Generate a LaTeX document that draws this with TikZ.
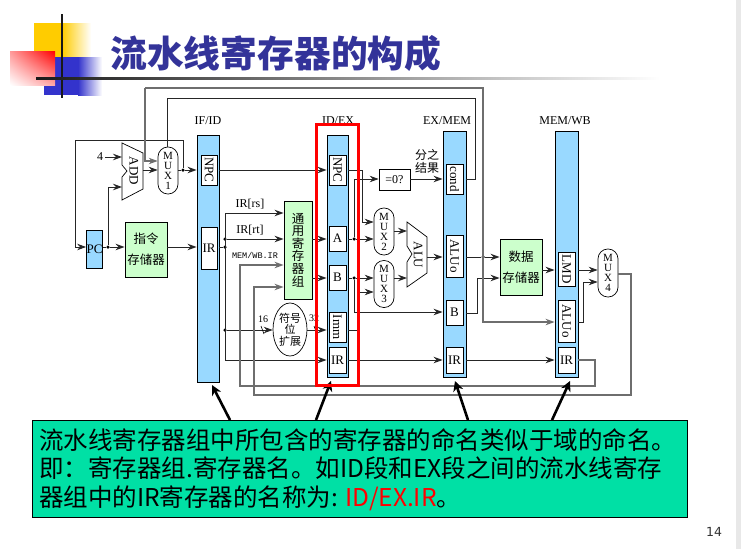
\documentclass[tikz,border=0pt]{standalone}
\usepackage{fontspec}
\setmainfont{Liberation Serif}
\newfontfamily\cjk{Noto Sans CJK SC}
\newfontfamily\monof{Liberation Mono}
\newfontfamily\pagef{DejaVu Sans}
\usepackage{xcolor}
\usetikzlibrary{arrows.meta,positioning,calc,shapes.geometric,shadings}
\definecolor{regblue}{HTML}{99D9FF}
\definecolor{unitgreen}{HTML}{CCFFCC}
\definecolor{calloutgreen}{HTML}{00E0A5}
\definecolor{titleblue}{HTML}{333399}
\definecolor{logoyellow}{HTML}{FFCC00}
\definecolor{logoblue}{HTML}{3333CC}
\definecolor{wiregray}{HTML}{6E6E6E}
\definecolor{edgegray}{HTML}{E8E8E8}
\tikzset{
  bar/.style={draw, fill=regblue, line width=0.9pt, minimum width=#1, anchor=north, inner sep=0pt},
  reg/.style={draw, fill=white, line width=0.8pt, font=\fontsize{13}{13}\selectfont, inner sep=0pt},
  unit/.style={draw, fill=unitgreen, line width=0.9pt, inner sep=0pt, align=center, font=\cjk\fontsize{12.5}{21}\selectfont},
  muxbox/.style={draw, fill=white, line width=0.7pt, rounded corners=9.8pt, minimum width=20pt, minimum height=47pt, inner sep=0pt, align=center, font=\fontsize{11}{10}\selectfont},
  stage/.style={font=\fontsize{12}{13}\selectfont, inner sep=0pt},
  dot/.style={circle, fill=black, inner sep=0pt, minimum size=3.5pt},
  tip/.style={-{Stealth[length=9pt,width=6.5pt,inset=3pt]}},
  wire/.style={draw=black!85, line width=0.9pt, tip},
  plainwire/.style={draw=black!85, line width=0.9pt},
  backwire/.style={draw=wiregray, line width=1.2pt},
  bigarrow/.style={draw=black, line width=2.6pt, -{Stealth[length=10pt,width=10pt,inset=3pt]}}
}
\begin{document}
\begin{tikzpicture}[x=1pt,y=-1pt]
\useasboundingbox (0,0) rectangle (741,549);
\fill[edgegray] (736,0) rectangle (741,549);
% logo
\fill[logoyellow] (34,23) rectangle (62,57);
\shade[left color=logoyellow, right color=white] (62,23) rectangle (91,57);
\fill[logoblue] (44,57) rectangle (78,95);
\shade[left color=logoblue, right color=white] (78,57) rectangle (102,95);
\shade[upper right=red, lower right=red!35, upper left=red!40, lower left=white] (10,51) rectangle (55,85);
\draw[black!90, line width=2.6pt] (62,14) -- (62,98);
\shade[left color=black!90, right color=white] (36,77.8) rectangle (660,79.2);
\node[font=\cjk\bfseries\fontsize{36.8}{36}\selectfont, text=titleblue, inner sep=0pt, anchor=west] (title) at (110,53) {流水线寄存器的构成};

% pipeline registers
\node[bar=22pt, minimum height=247pt] (ifid) at (208,135) {};
\node[bar=21pt, minimum height=242pt] (idex) at (337.5,135) {};
\node[bar=23pt, minimum height=246pt] (exmem) at (454.5,131) {};
\node[bar=23pt, minimum height=246pt] (memwb) at (566.5,131) {};
\node[stage] (lifid) at (208,121) {IF/ID};
\node[stage] (lidex) at (338,121) {ID/EX};
\node[stage] (lexmem) at (447,121) {EX/MEM};
\node[stage] (lmemwb) at (565,121) {MEM/WB};

\node[reg, rotate=-90, minimum width=30pt, minimum height=16pt] (ifnpc) at (209,170) {NPC};
\node[reg, minimum width=16pt, minimum height=42pt] (ifir) at (209,248) {IR};
\node[reg, rotate=-90, minimum width=30pt, minimum height=17pt] (idnpc) at (337.5,170) {NPC};
\node[reg, minimum width=17pt, minimum height=25pt] (ida) at (337.5,238.5) {A};
\node[reg, minimum width=17pt, minimum height=25pt] (idb) at (337.5,277.5) {B};
\node[reg, rotate=-90, minimum width=30pt, minimum height=17pt] (idimm) at (337.5,327) {Imm};
\node[reg, minimum width=17pt, minimum height=26pt] (idir) at (337.5,360) {IR};
\node[reg, rotate=-90, minimum width=30pt, minimum height=17pt] (excond) at (454.5,179) {cond};
\node[reg, rotate=-90, minimum width=42pt, minimum height=17pt] (exalu) at (454.5,256) {ALUo};
\node[reg, minimum width=17pt, minimum height=25pt] (exb) at (454.5,312.5) {B};
\node[reg, minimum width=17pt, minimum height=26pt] (exir) at (454.5,360) {IR};
\node[reg, rotate=-90, minimum width=34pt, minimum height=17pt] (wblmd) at (566.5,269) {LMD};
\node[reg, rotate=-90, minimum width=42pt, minimum height=17pt] (wbalu) at (566.5,321) {ALUo};
\node[reg, minimum width=17pt, minimum height=26pt] (wbir) at (566.5,360) {IR};

% units
\node[draw, fill=regblue, line width=0.9pt, minimum width=15pt, minimum height=38pt, inner sep=0pt, font=\fontsize{13}{13}\selectfont] (pc) at (94.5,249) {PC};
\node[unit, minimum width=42pt, minimum height=55pt] (imem) at (146,249.5) {指令\\存储器};
\node[unit, minimum width=28pt, minimum height=98pt, font=\cjk\fontsize{12.5}{12.6}\selectfont] (regs) at (298,250) {通\\用\\寄\\存\\器\\组};
\node[draw, ellipse, fill=white, line width=0.7pt, minimum width=34pt, minimum height=53pt, inner sep=0pt, align=center, font=\cjk\fontsize{11}{11.5}\selectfont] (sext) at (290,329.5) {符号\\位\\扩展};
\node[unit, minimum width=42pt, minimum height=56pt] (dmem) at (521,267) {数据\\存储器};
\node[draw, fill=white, line width=0.7pt, minimum width=31pt, minimum height=21pt, inner sep=0pt, font=\fontsize{12}{13}\selectfont] (zero) at (394.5,179.5) {=0?};
\node[muxbox] (muxa) at (168,170.5) {M\\U\\X\\1};
\node[muxbox] (muxb) at (384,231.5) {M\\U\\X\\2};
\node[muxbox] (muxc) at (384,284) {M\\U\\X\\3};
\node[muxbox, minimum height=48pt] (muxd) at (608,273) {M\\U\\X\\4};
\draw[fill=white, line width=0.7pt] (122,143) -- (143,153) -- (143,189) -- (122,200) -- (122,177) -- (127,171) -- (122,165) -- cycle;
\node[rotate=-90, inner sep=0pt, font=\fontsize{13}{13}\selectfont] (add) at (134,171) {ADD};
\draw[fill=white, line width=0.7pt] (407,222) -- (427,237) -- (427,273) -- (407,287) -- (407,262) -- (412,254) -- (407,246) -- cycle;
\node[rotate=-90, inner sep=0pt, font=\fontsize{13}{13}\selectfont] (alu) at (418,255) {ALU};

% wire rows
\coordinate (rnpc) at (0,170);
\coordinate (rrs) at (225,213);
\coordinate (rrt) at (0,239);
\coordinate (rir) at (0,247);
\coordinate (rb) at (0,278);
\coordinate (rimm) at (0,330);
\coordinate (rinst) at (0,360);
\coordinate (rcond) at (0,179);
\coordinate (rhigh) at (145,88);
\coordinate (rtop) at (167,98);
\coordinate (rloop) at (75,140);
\coordinate (rlow) at (240,386);
\coordinate (rlowb) at (254,395);

% dots
\node[dot] (jmux) at (183,170) {};
\node[dot] (jpc) at (108,247) {};
\node[dot] (jir) at (225,247) {};
\node[dot] (jrt) at (225,239) {};
\node[dot] (jimm) at (225,330) {};
\node[dot] (ja) at (354,239) {};
\node[dot] (jb) at (354,278) {};
\node[dot] (jalu) at (483,257) {};

% fetch
\node[inner sep=0pt, font=\fontsize{12}{13}\selectfont] (four) at (100,157) {4};
\draw[wire] (four.east) ++(2,0) -- (122,157);
\draw[plainwire] (muxa.east |- rnpc) -- (jmux);
\draw[wire] (jmux) -- (ifid.west |- rnpc);
\draw[plainwire] (jmux) |- (rloop) -- (rloop |- rir);
\draw[wire] (rloop |- rir) -- (pc.west |- rir);
\draw[plainwire] (pc.east |- rir) -- (jpc);
\draw[wire] (jpc) -- (imem.west |- rir);
\draw[wire] (jpc) |- (122,187);
\draw[wire] (143,170) -- (muxa.west |- rnpc);
\draw[wire] (imem.east |- rir) -- (ifid.west |- rir);
\draw[wire] (ifid.east |- rnpc) -- (idex.west |- rnpc);

% decode
\draw[plainwire] (ifid.east |- rir) -- (jir);
\draw[plainwire] (rrs) -- (225,361);
\draw[wire] (rrs) -- (regs.west |- rrs);
\draw[wire] (jrt) -- (regs.west |- rrt);
\draw[wire] (jimm) -- (sext.west |- rimm);
\draw[wire] (225,360) -- (idex.west |- rinst);
\draw[wire] (sext.east |- rimm) -- (idex.west |- rimm);
\draw[wire] (regs.east |- rrt) -- (idex.west |- rrt);
\draw[wire] (regs.east |- rb) -- (idex.west |- rb);
\draw[line width=0.6pt] (261,326) -- (264,334);
\draw[line width=0.6pt] (314,326) -- (317,334);
\node[inner sep=0pt, font=\fontsize{12}{12}\selectfont] (lrs) at (250,204) {IR[rs]};
\node[inner sep=0pt, font=\fontsize{12}{12}\selectfont] (lrt) at (250,230) {IR[rt]};
\node[inner sep=0pt, font=\monof\fontsize{8.5}{9}\selectfont] (lwb) at (255,255) {MEM/WB.IR};
\node[inner sep=0pt, font=\fontsize{10}{10}\selectfont] (lsixteen) at (263,319) {16};
\node[inner sep=0pt, font=\fontsize{10}{10}\selectfont] (lthirty) at (314,318) {32};

% execute
\draw[plainwire] (idex.east |- rnpc) -- (362,170) -- (362,222);
\draw[wire] (362,222) -- (muxb.west |- 362,222);
\draw[plainwire] (idex.east |- rrt) -- (ja);
\draw[plainwire] (354,179) -- (ja);
\draw[wire] (354,179) -- (zero.west |- rcond);
\draw[wire] (ja) -- (muxb.west |- rrt);
\draw[plainwire] (idex.east |- rb) -- (jb);
\draw[wire] (jb) -- (muxc.west |- rb);
\draw[wire] (jb) |- (exmem.west |- 0,312);
\draw[plainwire] (idex.east |- rimm) -- (359,330) -- (359,292);
\draw[wire] (359,292) -- (muxc.west |- 359,292);
\draw[wire] (idex.east |- rinst) -- (exmem.west |- rinst);
\draw[wire] (muxb.east |- 394,231) -- (407,231);
\draw[wire] (muxc.east |- rb) -- (407,278);
\draw[wire] (427,257) -- (exmem.west |- jalu);
\draw[wire] (zero.east |- rcond) -- (exmem.west |- rcond);
\node[inner sep=0pt, align=center, font=\cjk\fontsize{12}{13}\selectfont] (lbranch) at (427,161.5) {分之\\结果};

% memory
\draw[plainwire] (exmem.east |- jalu) -- (jalu);
\draw[wire] (jalu) -- (dmem.west |- jalu);
\draw[plainwire] (exmem.east |- 0,313) -- (477,313) -- (477,278);
\draw[wire] (477,278) -- (dmem.west |- rb);
\draw[wire] (dmem.east |- 0,270) -- (memwb.west |- 0,270);
\draw[wire] (exmem.east |- rinst) -- (memwb.west |- rinst);
\draw[wire] (memwb.east |- 0,270) -- (muxd.west |- 0,270);
\draw[plainwire] (memwb.east |- 0,322) -- (583,322) -- (583,282);
\draw[wire] (583,282) -- (muxd.west |- 0,282);

% back wires
\draw[backwire, tip] (rhigh) -- (483,88) -- (483,322) -- (memwb.west |- 0,322);
\draw[backwire, tip] (rhigh) -- (145,161) -- (muxa.west |- 0,161);
\draw[plainwire, line width=1pt] (exmem.east |- rcond) -- (475,179) -- (475,98) -- (rtop) -- (muxa.north -| rtop);
\draw[backwire, tip] (memwb.east |- rinst) -- (595,360) -- (595,386) -- (rlow) -- (240,265) -- (regs.west |- 240,265);
\draw[backwire, tip] (muxd.east |- 0,274) -- (631,274) -- (631,395) -- (rlowb) -- (254,287) -- (regs.west |- 254,287);

% callout
\node[draw, fill=calloutgreen, line width=0.8pt, minimum width=655pt, minimum height=97pt, anchor=north west, inner sep=0pt] (callout) at (32,420) {};
\node[anchor=north west, inner sep=0pt, align=left, font=\cjk\fontsize{24.5}{28.5}\selectfont] (callouttext) at (39,428) {流水线寄存器组中所包含的寄存器的命名类似于域的命名。\\即：寄存器组.寄存器名。如ID段和EX段之间的流水线寄存\\器组中的IR寄存器的名称为: \textcolor{red}{ID/EX.IR}。};
\draw[bigarrow] (callout.north -| 230,0) -- (212,385);
\draw[bigarrow] (callout.north -| 316,0) -- (331,381);
\draw[bigarrow] (callout.north -| 468,0) -- (455,381);
\draw[bigarrow] (callout.north -| 552,0) -- (570,381);

% highlight
\node[draw=red, line width=3pt, minimum width=42pt, minimum height=261pt, anchor=north west, inner sep=0pt] (redbox) at (315,123) {};
\node[inner sep=0pt, text=black!80, font=\pagef\fontsize{12.5}{13}\selectfont] (pagenum) at (714,532) {14};
\end{tikzpicture}
\end{document}
